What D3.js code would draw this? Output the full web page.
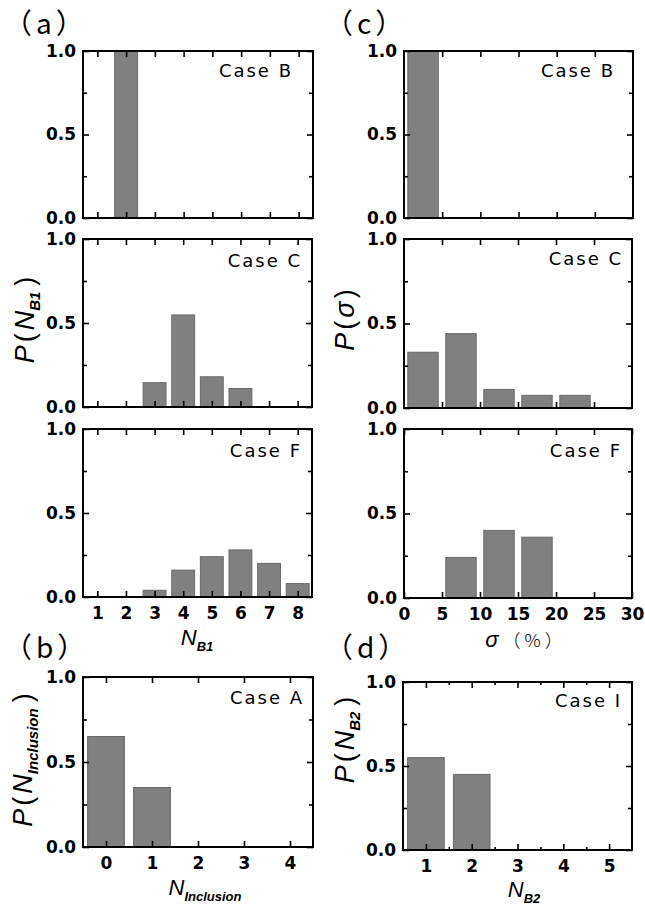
<!DOCTYPE html>
<html>
<head>
<meta charset="utf-8">
<script src="https://cdn.jsdelivr.net/npm/d3@7"></script>
<style>
  body { margin: 0; background: #fff; }
  .tick text { font-family: "DejaVu Sans", sans-serif; font-weight: bold; font-size: 17px; fill: #000; }
  .tick line { stroke: #000; stroke-width: 1.6; }
  .case { font-family: "DejaVu Sans", sans-serif; font-size: 18px; letter-spacing: 2px; }
  .ttl { font-family: "Liberation Sans", Arial, sans-serif; }
  .plab { font-family: "Noto Sans CJK SC", sans-serif; font-size: 28px; font-weight: 400; letter-spacing: 4px; }
</style>
</head>
<body>
<svg id="chart" width="645" height="907"></svg>
<script>
// N_B1 distributions
const nb1Cats = [1, 2, 3, 4, 5, 6, 7, 8];
const nb1CaseB = [0, 1.0, 0, 0, 0, 0, 0, 0];
const nb1CaseC = [0, 0, 0.145, 0.548, 0.18, 0.11, 0, 0];
const nb1CaseF = [0, 0, 0.04, 0.16, 0.24, 0.28, 0.20, 0.08];

// sigma (%) distributions, bins of width 5
const sigmaBins = [2.5, 7.5, 12.5, 17.5, 22.5, 27.5];
const sigmaCaseB = [1.0, 0, 0, 0, 0, 0];
const sigmaCaseC = [0.33, 0.44, 0.11, 0.075, 0.075, 0];
const sigmaCaseF = [0, 0.24, 0.40, 0.36, 0, 0];

// N_Inclusion, case A
const inclCats = [0, 1, 2, 3, 4];
const inclCaseA = [0.65, 0.35, 0, 0, 0];

// N_B2, case I
const nb2Cats = [1, 2, 3, 4, 5];
const nb2CaseI = [0.55, 0.45, 0, 0, 0];

const yTicks = [0, 0.5, 1.0];
const yMinor = [0.25, 0.75];

const svg = d3.select('#chart');

const panels = [
  {box: [83, 313, 51, 218], dom: [0.5, 8.5], cats: nb1Cats, vals: nb1CaseB, bw: 0.8, label: 'Case B', lx: 20, ly: 26, ticks: nb1Cats, labels: false},
  {box: [83, 312, 239, 407], dom: [0.5, 8.5], cats: nb1Cats, vals: nb1CaseC, bw: 0.8, label: 'Case C', lx: 10, ly: 28, ticks: nb1Cats, labels: false},
  {box: [83, 312, 429, 597], dom: [0.5, 8.5], cats: nb1Cats, vals: nb1CaseF, bw: 0.8, label: 'Case F', lx: 10, ly: 28, ticks: nb1Cats, labels: true},
  {box: [404, 633, 51, 218], dom: [0, 30], cats: sigmaBins, vals: sigmaCaseB, bw: 4, label: 'Case B', lx: 18, ly: 26, ticks: [5, 10, 15, 20, 25], labels: false},
  {box: [404, 632, 239, 408], dom: [0, 30], cats: sigmaBins, vals: sigmaCaseC, bw: 4, label: 'Case C', lx: 9, ly: 26, ticks: [5, 10, 15, 20, 25], labels: false},
  {box: [404, 632, 429, 598], dom: [0, 30], cats: sigmaBins, vals: sigmaCaseF, bw: 4, label: 'Case F', lx: 10, ly: 28, ticks: [0, 5, 10, 15, 20, 25, 30], labels: true},
  {box: [83, 313, 677, 847], dom: [-0.5, 4.5], cats: inclCats, vals: inclCaseA, bw: 0.8, label: 'Case A', lx: 9, ly: 27, ticks: inclCats, labels: true},
  {box: [403, 632, 682, 850], dom: [0.5, 5.5], cats: nb2Cats, vals: nb2CaseI, bw: 0.8, label: 'Case I', lx: 10, ly: 25, ticks: nb2Cats, minor: [1.5, 2.5, 3.5, 4.5], labels: true}
];

function drawPanel(p) {
  const [x0, x1, y0, y1] = p.box;
  const x = d3.scaleLinear().domain(p.dom).range([x0, x1]);
  const y = d3.scaleLinear().domain([0, 1]).range([y1, y0]);
  const g = svg.append('g');

  const bars = p.cats.map((c, i) => ({c: c, v: p.vals[i]})).filter((d) => d.v > 0);
  g.selectAll('.bar')
    .data(bars)
    .join('rect')
    .attr('x', (d) => x(d.c - p.bw / 2))
    .attr('width', (d) => x(d.c + p.bw / 2) - x(d.c - p.bw / 2))
    .attr('y', (d) => y(d.v))
    .attr('height', (d) => y(0) - y(d.v))
    .attr('fill', '#808080')
    .attr('stroke', '#6a6a6a')
    .attr('stroke-width', 1);

  // ticks pointing inward on all sides
  const bottom = d3.axisBottom(x).tickValues(p.ticks).tickSize(-6).tickPadding(10)
    .tickFormat(p.labels ? d3.format('d') : '');
  g.append('g').attr('transform', `translate(0,${y1})`).call(bottom);
  g.append('g').attr('transform', `translate(0,${y0})`)
    .call(d3.axisTop(x).tickValues(p.ticks).tickSize(-6).tickFormat(''));
  if (p.minor) {
    g.append('g').attr('transform', `translate(0,${y1})`)
      .call(d3.axisBottom(x).tickValues(p.minor).tickSize(-3).tickFormat(''));
    g.append('g').attr('transform', `translate(0,${y0})`)
      .call(d3.axisTop(x).tickValues(p.minor).tickSize(-3).tickFormat(''));
  }
  g.append('g').attr('transform', `translate(${x0},0)`)
    .call(d3.axisLeft(y).tickValues(yTicks).tickSize(-6).tickPadding(7).tickFormat(d3.format('.1f')));
  g.append('g').attr('transform', `translate(${x0},0)`)
    .call(d3.axisLeft(y).tickValues(yMinor).tickSize(-4).tickFormat(''));
  g.append('g').attr('transform', `translate(${x1},0)`)
    .call(d3.axisRight(y).tickValues(yTicks).tickSize(-6).tickFormat(''));
  g.append('g').attr('transform', `translate(${x1},0)`)
    .call(d3.axisRight(y).tickValues(yMinor).tickSize(-4).tickFormat(''));
  g.selectAll('.domain').remove();

  g.append('rect')
    .attr('x', x0).attr('y', y0)
    .attr('width', x1 - x0).attr('height', y1 - y0)
    .attr('fill', 'none').attr('stroke', '#000').attr('stroke-width', 2);

  g.append('text')
    .attr('class', 'case')
    .attr('x', x1 - p.lx).attr('y', y0 + p.ly)
    .attr('text-anchor', 'end')
    .text(p.label);
}

panels.forEach(drawPanel);

// panel letters
[['（a）', 4, 34], ['（c）', 325, 34], ['（b）', 4, 658], ['（d）', 325, 658]].forEach((d) => {
  svg.append('text').attr('class', 'plab').attr('x', d[1]).attr('y', d[2]).text(d[0]);
});

// x axis titles
function xTitle(cx, cy, main, sub, subText) {
  const t = svg.append('text').attr('class', 'ttl').attr('x', cx).attr('y', cy).attr('text-anchor', 'middle');
  t.append('tspan').attr('font-style', 'italic').attr('font-size', 22).text(main);
  if (sub) {
    t.append('tspan').attr('font-style', 'italic').attr('font-weight', 'bold').attr('font-size', 13)
      .attr('dy', 6).text(sub);
  }
  if (subText) {
    t.append('tspan').attr('font-family', '"Noto Sans CJK SC", sans-serif').attr('font-weight', 300)
      .attr('font-size', 18).attr('letter-spacing', 4).attr('dx', 4).text(subText);
  }
}
xTitle(197, 645, 'N', 'B1');
xTitle(526, 647, 'σ', null, '（%）');
xTitle(205, 895, 'N', 'Inclusion');
xTitle(524, 897, 'N', 'B2');

// y axis titles
function yTitle(bx, cy, sub, sym) {
  const t = svg.append('text').attr('class', 'ttl')
    .attr('transform', `translate(${bx},${cy}) rotate(-90)`)
    .attr('text-anchor', 'middle')
    .attr('font-size', 27);
  t.append('tspan').attr('font-style', 'italic').text('P');
  t.append('tspan').attr('dx', 3).attr('font-weight', 300).text('(');
  t.append('tspan').attr('dx', 3).attr('font-style', 'italic').text(sym);
  if (sub) {
    t.append('tspan').attr('font-style', 'italic').attr('font-weight', 'bold').attr('font-size', 15)
      .attr('dy', 6).text(sub);
    t.append('tspan').attr('dy', -6).attr('dx', 6).text(')');
  } else {
    t.append('tspan').attr('dx', 3).text(')');
  }
}
yTitle(34, 320, 'B1', 'N');
yTitle(354, 320, null, 'σ');
yTitle(32, 760, 'Inclusion', 'N');
yTitle(354, 740, 'B2', 'N');
</script>
</body>
</html>
